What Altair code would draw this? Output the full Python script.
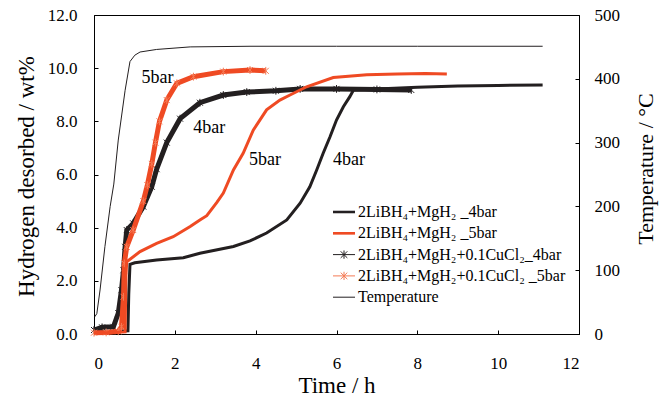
import altair as alt
import pandas as pd

# ---------------- data ----------------
temp_t = [0.02, 0.07, 0.15, 0.27, 0.40, 0.49, 0.60, 0.77, 0.89, 1.01, 1.14, 1.55, 2.38, 3.86, 6.0, 8.0, 11.1]
temp_v = [27, 32, 69, 137, 200, 235, 304, 382, 427, 437, 442, 446, 450, 451, 451, 451, 451]

s1_t = [0.0, 0.4, 0.84, 0.86, 0.89, 1.01, 1.55, 2.21, 2.62, 3.45, 3.86, 4.27, 4.77, 5.10, 5.34, 5.51,
        5.67, 5.84, 6.0, 6.17, 6.33, 6.42, 7.0, 8.0, 9.0, 10.0, 11.1]
s1_v = [0.08, 0.09, 0.12, 1.5, 2.62, 2.68, 2.78, 2.87, 3.04, 3.29, 3.5, 3.8, 4.29, 4.92, 5.54, 6.17,
        6.8, 7.42, 8.05, 8.55, 8.93, 9.18, 9.22, 9.28, 9.33, 9.35, 9.37]

s2_t = [0.0, 0.4, 0.77, 0.79, 0.81, 1.14, 1.55, 1.96, 2.38, 2.62, 2.79, 3.04, 3.2, 3.45, 3.69, 3.94,
        4.27, 4.6, 4.85, 5.26, 5.92, 6.75, 7.5, 8.2, 8.73]
s2_v = [0.05, 0.05, 0.08, 2.2, 2.72, 3.1, 3.41, 3.66, 4.04, 4.29, 4.45, 4.95, 5.3, 6.17, 6.8, 7.67,
        8.43, 8.8, 8.99, 9.3, 9.65, 9.75, 9.78, 9.8, 9.78]

s3_t = [0.0, 0.2, 0.48, 0.6, 0.68, 0.73, 0.77, 0.81, 0.97, 1.22, 1.43, 1.55, 1.8, 2.13, 2.62, 3.2,
        3.78, 4.5, 5.1, 6.0, 7.0, 7.85]
s3_v = [0.15, 0.25, 0.27, 0.78, 1.65, 2.4, 3.28, 3.91, 4.16, 4.79, 5.54, 6.2, 7.2, 8.1, 8.7, 8.99,
        9.1, 9.15, 9.22, 9.22, 9.2, 9.18]

s4_t = [0.0, 0.3, 0.6, 0.68, 0.73, 0.75, 0.81, 0.97, 1.22, 1.32, 1.43, 1.52, 1.62, 1.8, 2.05, 2.46,
        3.2, 3.86, 4.25]
s4_v = [0.05, 0.06, 0.1, 0.27, 1.4, 2.66, 3.28, 3.91, 5.0, 5.6, 6.4, 7.2, 8.0, 8.8, 9.43, 9.68,
        9.87, 9.93, 9.9]

series_names = ["2LiBH₄+MgH₂ _4bar", "2LiBH₄+MgH₂ _5bar",
                "2LiBH₄+MgH₂+0.1CuCl₂_4bar", "2LiBH₄+MgH₂+0.1CuCl₂ _5bar", "Temperature"]

ann_t = [1.57, 2.85, 4.23, 6.31]
ann_v = [9.62, 7.74, 6.55, 6.55]
ann_text = ["5bar", "4bar", "5bar", "4bar"]

x_ticks = [0, 2, 4, 6, 8, 10, 12]
y_ticks = [0, 2, 4, 6, 8, 10, 12]
t_ticks = [0, 100, 200, 300, 400, 500]

# ---------------- styles ----------------
BLACK = "#231F20"
ORANGE = "#EF4A23"
LORANGE = "#F47A55"
FONT = "Liberation Serif"
W, H = 485, 319

def frame(t, v, name):
    return pd.DataFrame({"t": t, "v": v, "series": name})

df_temp = frame(temp_t, temp_v, series_names[4])
df1 = frame(s1_t, s1_v, series_names[0])
df2 = frame(s2_t, s2_v, series_names[1])
df3 = frame(s3_t, s3_v, series_names[2])
df4 = frame(s4_t, s4_v, series_names[3])
df_leg = pd.DataFrame({"t": [0.0] * 5, "v": [0.0] * 5, "series": series_names})
df_ann = pd.DataFrame({"t": ann_t, "v": ann_v, "label": ann_text})

X = alt.X("t:Q", scale=alt.Scale(domain=[0, 12], nice=False),
          axis=alt.Axis(values=x_ticks, format="d", title="Time / h",
                        tickSize={"expr": "-4"}, labelPadding=25,
                        titleY=58, titleBaseline="alphabetic"))
Y = alt.Y("v:Q", scale=alt.Scale(domain=[0, 12], nice=False),
          axis=alt.Axis(values=y_ticks, format=".1f", title="Hydrogen desorbed / wt%",
                        orient="left", tickSize={"expr": "-4"}, labelPadding=21,
                        titleX=-60.7, titleY=161, titleBaseline="alphabetic", titleAngle=270))
YT = alt.Y("v:Q", scale=alt.Scale(domain=[0, 500], nice=False),
           axis=alt.Axis(values=t_ticks, format="d", title="Temperature / °C",
                         orient="right", tickSize={"expr": "-4"}, labelPadding=19,
                         titleFontSize=22,
                         titleX=73, titleY=153.5, titleBaseline="alphabetic", titleAngle=270))

# legend symbols: thick line drawn as parallel strokes, line + asterisk, thin line
THICK = "M-2,-0.14L2,-0.14M-2,-0.07L2,-0.07M-2,0L2,0M-2,0.07L2,0.07M-2,0.14L2,0.14"
LINE_AST = "M-2,0L2,0M-0.6,-0.6L0.6,0.6M-0.6,0.6L0.6,-0.6M0,-0.75L0,0.75"
LINE = "M-2,0L2,0"
AST = "M-1,-1L1,1M-1,1L1,-1M0,-1.3L0,1.3"

leg = alt.Legend(orient="none", legendX=242, legendY=189, title=None,
                 labelFont=FONT, labelFontSize=16, labelColor="black", labelLimit=400,
                 symbolSize=121, symbolStrokeWidth=1, labelOffset=6, rowPadding=5.3, padding=0)

temp_layer = alt.Chart(df_temp).mark_line(color=BLACK, strokeWidth=1).encode(x=X, y=YT)

l1 = alt.Chart(df1).mark_line(color=BLACK, strokeWidth=3).encode(x=X, y=Y)
l2 = alt.Chart(df2).mark_line(color=ORANGE, strokeWidth=3).encode(x=X, y=Y)
l3 = alt.Chart(df3).mark_line(color=BLACK, strokeWidth=5).encode(x=X, y=Y)
p3 = alt.Chart(df3).mark_point(shape=AST, size=36, strokeWidth=1, filled=False,
                               color=BLACK, opacity=1).encode(x=X, y=Y)
l4 = alt.Chart(df4).mark_line(color=ORANGE, strokeWidth=5).encode(x=X, y=Y)
p4 = alt.Chart(df4).mark_point(shape=AST, size=36, strokeWidth=1, filled=False,
                               color=LORANGE, opacity=1).encode(x=X, y=Y)

legend_layer = alt.Chart(df_leg).mark_point(filled=False, opacity=1, strokeWidth=1).encode(
    x=X, y=Y,
    color=alt.Color("series:N", scale=alt.Scale(domain=series_names,
                                                range=[BLACK, ORANGE, BLACK, LORANGE, BLACK]), legend=leg),
    shape=alt.Shape("series:N", scale=alt.Scale(domain=series_names,
                                                range=[THICK, THICK, LINE_AST, LINE_AST, LINE]), legend=leg),
).transform_filter("datum.t < 0")

ann_layer = alt.Chart(df_ann).mark_text(font=FONT, fontSize=18, color="black").encode(
    x=X, y=Y, text="label:N")

inner = alt.layer(l1, l3, p3, l4, p4, l2, ann_layer, legend_layer)

chart = alt.layer(temp_layer, inner).resolve_scale(y="independent").properties(
    width=W, height=H,
    padding={"left": 94, "top": 15, "right": 85, "bottom": 67},
    autosize=alt.AutoSizeParams(type="none"),
    background="white",
).configure_view(stroke="black", strokeWidth=1).configure_axis(
    labelFont=FONT, titleFont=FONT, labelFontSize=17, titleFontSize=23,
    titleFontWeight="normal", labelColor="black", titleColor="black",
    domainColor="black", tickColor="black", grid=False,
)

chart.save("out.html", embed_options={"renderer": "svg", "actions": False})
